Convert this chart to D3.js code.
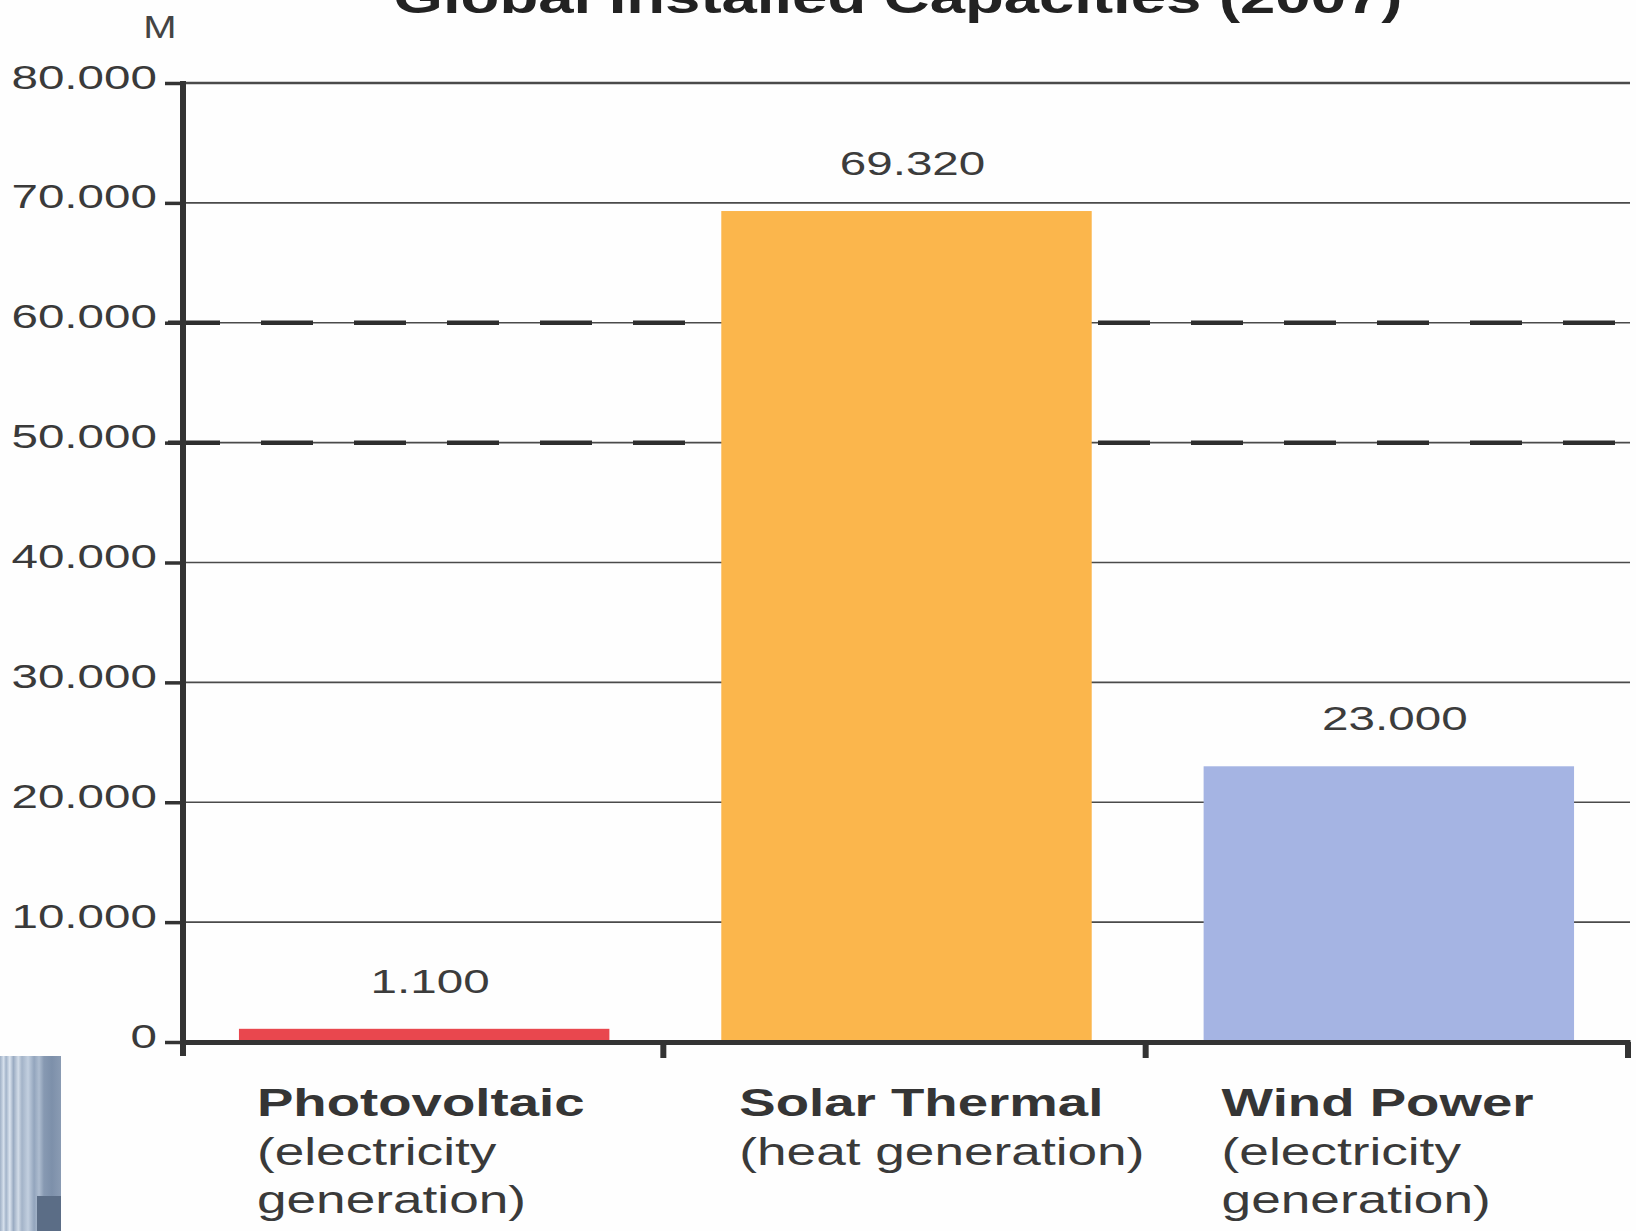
<!DOCTYPE html>
<html>
<head>
<meta charset="utf-8">
<script src="https://cdn.jsdelivr.net/npm/d3@7"></script>
<style>
  html, body { margin: 0; padding: 0; background: #fefefe; }
  svg { display: block; }
</style>
</head>
<body>
<svg id="chart" width="1636" height="1231"></svg>
<script>
// ---- data ----
const title = "Global Installed Capacities (2007)";
const unitLabel = "M";
const categories = ["Photovoltaic", "Solar Thermal", "Wind Power"];
const subLines = [["(electricity", "generation)"], ["(heat generation)"], ["(electricity", "generation)"]];
const values = [1100, 69320, 23000];
const valueLabels = ["1.100", "69.320", "23.000"];
const barColors = ["#e9474e", "#fbb64c", "#a5b4e3"];
const yTicks = [0, 10000, 20000, 30000, 40000, 50000, 60000, 70000, 80000];
const yTickLabels = ["0", "10.000", "20.000", "30.000", "40.000", "50.000", "60.000", "70.000", "80.000"];
const dashedTicks = [50000, 60000];

(function () {
// ---- layout ----
const W = 1636, H = 1231;
const plotLeft = 183, plotRight = 1630, plotTop = 83, plotBottom = 1042;
const sx = 1.4; // horizontal text stretch seen in the reference
const ink = "#333";

const svg = d3.select("#chart");
svg.append("rect").attr("width", W).attr("height", H).attr("fill", "#fefefe");

const x = d3.scaleBand().domain(categories).range([plotLeft, plotRight]).paddingInner(0.232).paddingOuter(0.116);
const y = d3.scaleLinear().domain([0, 80000]).range([plotBottom, plotTop]);

// title (cut off at the top of the picture, as in the reference)
svg.append("text")
  .attr("transform", `translate(898,13) scale(1.38,1)`)
  .attr("text-anchor", "middle")
  .attr("font-family", "Liberation Sans, Arial, sans-serif")
  .attr("font-weight", "bold").attr("font-size", 46).attr("fill", "#222")
  .text(title);

// unit label
svg.append("text")
  .attr("transform", `translate(160,38) scale(1.25,1)`)
  .attr("text-anchor", "middle")
  .attr("font-family", "Liberation Sans, Arial, sans-serif")
  .attr("font-size", 32).attr("fill", "#444")
  .text(unitLabel);

// gridlines
const grid = svg.append("g");
grid.selectAll("line.g").data(yTicks.filter(d => d > 0)).join("line")
  .attr("class", "g")
  .attr("x1", plotLeft).attr("x2", plotRight)
  .attr("y1", d => y(d)).attr("y2", d => y(d))
  .attr("stroke", "#4a4a4a")
  .attr("stroke-width", d => d === 80000 ? 2.6 : 1.7);
grid.selectAll("line.d").data(dashedTicks).join("line")
  .attr("class", "d")
  .attr("x1", 168).attr("x2", plotRight)
  .attr("y1", d => y(d)).attr("y2", d => y(d))
  .attr("stroke", "#2e2e2e").attr("stroke-width", 4.5)
  .attr("stroke-dasharray", "52,41");

// bars
svg.append("g").selectAll("rect").data(values).join("rect")
  .attr("x", (d, i) => x(categories[i]))
  .attr("width", x.bandwidth())
  .attr("y", d => y(d))
  .attr("height", d => y(0) - y(d))
  .attr("fill", (d, i) => barColors[i]);

// value labels
svg.append("g").selectAll("text").data(values).join("text")
  .attr("transform", (d, i) => `translate(${x(categories[i]) + x.bandwidth() / 2 + 6},${y(d) - 36}) scale(${sx},1)`)
  .attr("text-anchor", "middle")
  .attr("font-family", "Liberation Sans, Arial, sans-serif")
  .attr("font-size", 34).attr("fill", "#3c3c3c")
  .text((d, i) => valueLabels[i]);

// y axis
const yAxis = svg.append("g").attr("transform", `translate(${plotLeft},0)`)
  .call(d3.axisLeft(y).tickValues(yTicks).tickFormat((d, i) => yTickLabels[i]).tickSize(18).tickSizeOuter(0));
yAxis.select(".domain").remove();
yAxis.selectAll(".tick line").attr("stroke", ink).attr("stroke-width", 3.5);
yAxis.selectAll(".tick text")
  .attr("x", 0).attr("dy", null).attr("y", 0)
  .attr("transform", `translate(-26,5) scale(${sx},1)`)
  .attr("text-anchor", "end")
  .attr("font-family", "Liberation Sans, Arial, sans-serif")
  .attr("font-size", 34).attr("fill", "#3a3a3a");
svg.append("line")
  .attr("x1", plotLeft).attr("x2", plotLeft).attr("y1", y(80000) - 2).attr("y2", y(0) + 14)
  .attr("stroke", ink).attr("stroke-width", 6);

// x axis
const xAxis = svg.append("g").attr("transform", `translate(0,${y(0)})`)
  .call(d3.axisBottom(x).tickSize(0).tickFormat(""));
xAxis.select(".domain").attr("stroke", ink).attr("stroke-width", 5);
const bounds = d3.range(categories.length + 1).map(i => x.range()[0] + i * x.step());
xAxis.selectAll("line.b").data(bounds.slice(1)).join("line")
  .attr("class", "b")
  .attr("x1", d => d - 2).attr("x2", d => d - 2)
  .attr("y1", 0).attr("y2", 16)
  .attr("stroke", ink).attr("stroke-width", 6);

// category labels
const catG = svg.append("g");
const labelShift = [24, 2, 28];
categories.forEach((c, i) => {
  const x0 = x(c) + 18;
  catG.append("text")
    .attr("transform", `translate(${x0},1116) scale(${sx},1)`)
    .attr("font-family", "Liberation Sans, Arial, sans-serif")
    .attr("font-weight", "bold").attr("font-size", 39).attr("fill", "#353535")
    .text(c);
  subLines[i].forEach((t, j) => {
    catG.append("text")
      .attr("transform", `translate(${x0},${1165 + j * 48}) scale(${sx},1)`)
      .attr("font-family", "Liberation Sans, Arial, sans-serif")
      .attr("font-size", 38).attr("fill", "#3a3a3a")
      .text(t);
  });
});

// slide decoration bottom-left
const defs = svg.append("defs");
const grad = defs.append("linearGradient").attr("id", "stripes").attr("x1", 0).attr("x2", 1).attr("y1", 0).attr("y2", 0);
[["0%", "#9fb0c6"], ["6%", "#d6e0ec"], ["10%", "#a2b3c9"], ["16%", "#dbe4ef"], ["22%", "#9aabc2"], ["30%", "#d2dce8"],
 ["36%", "#a3b3c8"], ["46%", "#c2cfdf"], ["56%", "#93a5bd"], ["64%", "#aebdd0"], ["72%", "#8799b2"], ["85%", "#7d90aa"], ["100%", "#8a9bb3"]]
  .forEach(([o, c]) => grad.append("stop").attr("offset", o).attr("stop-color", c));
svg.append("rect").attr("x", 0).attr("y", 1056).attr("width", 61).attr("height", H - 1056).attr("fill", "url(#stripes)");
svg.append("rect").attr("x", 37).attr("y", 1196).attr("width", 24).attr("height", H - 1196).attr("fill", "#5b6d86");
})();
</script>
</body>
</html>
